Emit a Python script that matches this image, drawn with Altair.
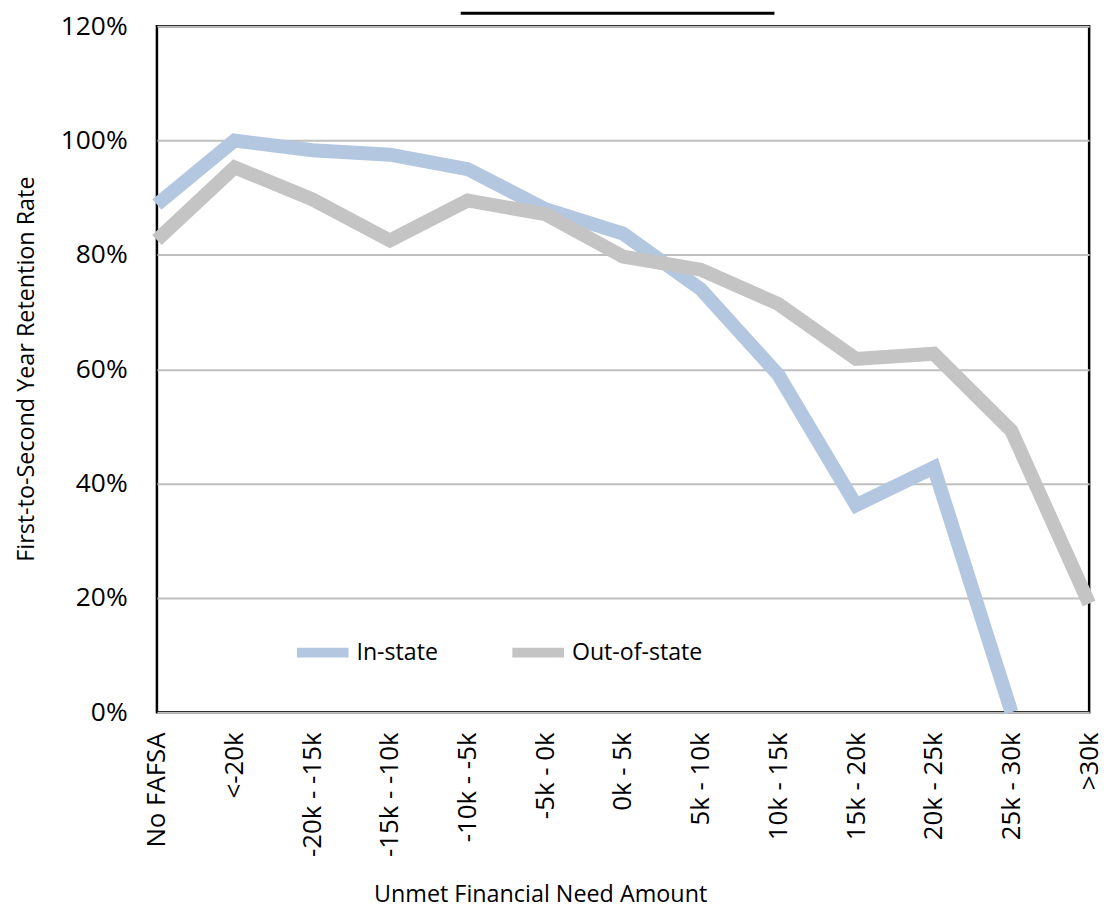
import altair as alt
import pandas as pd

categories = ["No FAFSA", "<-20k", "-20k - -15k", "-15k - -10k", "-10k - -5k",
              "-5k - 0k", "0k - 5k", "5k - 10k", "10k - 15k", "15k - 20k",
              "20k - 25k", "25k - 30k", ">30k"]
in_state = [0.888, 1.000, 0.983, 0.975, 0.950, 0.880, 0.837, 0.740, 0.590,
            0.362, 0.428, 0.000, None]
out_state = [0.826, 0.953, 0.897, 0.825, 0.895, 0.871, 0.797, 0.774, 0.714,
             0.618, 0.627, 0.492, 0.190]
series_names = ["In-state", "Out-of-state"]
series_colors = ["#B4C7E1", "#C3C4C3"]
y_ticks = [0, 0.2, 0.4, 0.6, 0.8, 1.0, 1.2]

rows = []
for c, a, b in zip(categories, in_state, out_state):
    if a is not None:
        rows.append({"cat": c, "series": "In-state", "value": a})
    if b is not None:
        rows.append({"cat": c, "series": "Out-of-state", "value": b})
df = pd.DataFrame(rows)

FONT = "Open Sans"

lines = alt.Chart(df).mark_line(strokeWidth=14, strokeJoin="miter").encode(
    x=alt.X("cat:N", sort=categories,
            scale=alt.Scale(type="point", padding=0),
            axis=alt.Axis(title="Unmet Financial Need Amount", labelAngle=-90,
                          labelPadding=20, ticks=False, domain=False,
                          labelFontSize=26, labelFont=FONT, labelColor="#000",
                          titleFontSize=23.5, titleFont=FONT, titleFontWeight="normal",
                          titleColor="#000", titleX=386, titleY=184,
                          titleAlign="center", titleBaseline="middle")),
    y=alt.Y("value:Q", scale=alt.Scale(domain=[0, 1.2], nice=False),
            axis=alt.Axis(title="First-to-Second Year Retention Rate", format=".0%",
                          values=y_ticks, ticks=False, domain=False, labelPadding=30,
                          labelFontSize=26.5, labelFont=FONT, labelColor="#000",
                          gridColor="#BFBFBF", gridWidth=2,
                          titleFontSize=23.5, titleFont=FONT, titleFontWeight="normal",
                          titleColor="#000", titleX=-131, titleY=345,
                          titleAngle=-90, titleAlign="center", titleBaseline="middle")),
    color=alt.Color("series:N",
                    scale=alt.Scale(domain=series_names, range=series_colors),
                    legend=alt.Legend(title=None, orient="none", direction="horizontal",
                                      legendX=136, legendY=600, symbolType="stroke",
                                      symbolSize=2704, symbolStrokeWidth=10,
                                      labelFontSize=23.3, labelFont=FONT, labelColor="#000",
                                      labelOffset=3, columnPadding=54)),
)

topbox = alt.Chart(pd.DataFrame({"v": [0]})).mark_rule(color="#000", strokeWidth=3).encode(
    x=alt.value(306), x2=alt.value(622), y=alt.value(-13)
)

chart = alt.layer(lines, topbox).properties(
    width=939, height=691,
    autosize=alt.AutoSizeParams(type="none"),
    padding={"left": 150, "top": 15, "right": 19, "bottom": 196},
).configure_view(stroke="#000", strokeWidth=2.5)

chart.save("out.html", embed_options={"renderer": "svg", "actions": False})
